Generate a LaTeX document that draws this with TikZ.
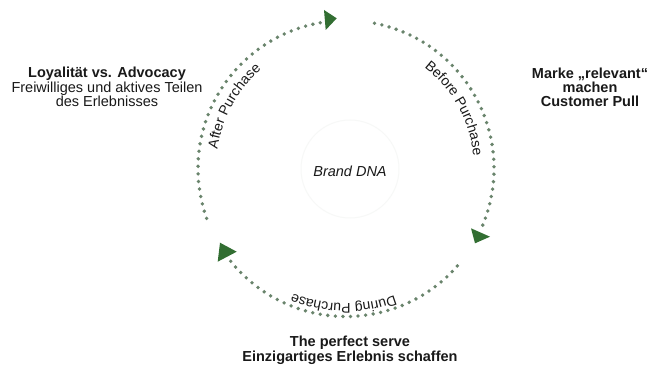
\documentclass[tikz,border=0pt]{standalone}
\usepackage{fontspec}
\setmainfont{Liberation Sans}
\usetikzlibrary{decorations.text}
\definecolor{dotc}{RGB}{105,132,108}
\definecolor{arrc}{RGB}{50,110,50}
\definecolor{txtc}{RGB}{25,25,25}
\definecolor{ringc}{RGB}{247,248,247}
\newcommand\lblfont{\fontsize{14.5}{13.5}\selectfont}
\newcommand\arcfont{\fontsize{14}{14}\selectfont\color{txtc}}
\begin{document}
\begin{tikzpicture}[x=1pt,y=1pt,
  lbl/.style={font=\lblfont, align=center, text=txtc, inner sep=0pt, anchor=base},
  dotmark/.style={fill=dotc},
  arrowhead/.style={fill=arrc},
  arctext/.style={decoration={text along path, text align=center, text={|\arcfont|#1}}, decorate}]
\useasboundingbox[fill=white] (0,0) rectangle (652,364);
\coordinate (c) at (346,195.5);
% faint inner ring
\draw[ringc, line width=1pt] (350,195) circle (49);
\node[font=\fontsize{14.5}{14.5}\selectfont\itshape, text=txtc, inner sep=0pt] (dna) at (350,193) {Brand DNA};
% dotted arcs
\foreach \a/\b/\n in {199.7/100/34, 78.9/-22.5/35, -41.2/-141.2/34} {
  \foreach \i in {0,...,\n} {
    \fill[dotmark] (c) ++({\a+((\b)-(\a))*\i/\n}:148) circle (1.9);
  }
}
% arrowheads
\fill[arrowhead] (324,354) -- (325.7,334) -- (336.7,345.7) -- cycle;
\fill[arrowhead] (471,135.7) -- (475,120.7) -- (490,127.3) -- cycle;
\fill[arrowhead] (220,121.3) -- (217.7,102.3) -- (236.7,112.3) -- cycle;
% arc labels
\path[arctext={After Purchase}] (c) ++(191:130) arc[start angle=191, end angle=111, radius=130];
\path[arctext={Before Purchase}] (c) ++(69:128) arc[start angle=69, end angle=-11, radius=128];
\path[arctext={During Purchase}] (c) ++(-51:135.5) arc[start angle=-51, end angle=-131, radius=135.5];
% outer labels
\node[lbl] (after) at (107,257) {\textbf{Loyalität vs. Advocacy}\\Freiwilliges und aktives Teilen\\des Erlebnisses};
\node[lbl, font=\fontsize{14.5}{14}\selectfont\bfseries] (before) at (590,257) {Marke „relevant“\\machen\\Customer Pull};
\node[lbl, font=\fontsize{14.5}{12.5}\selectfont\bfseries] (during) at (350,2.5) {The perfect serve\\Einzigartiges Erlebnis schaffen};
\end{tikzpicture}
\end{document}
